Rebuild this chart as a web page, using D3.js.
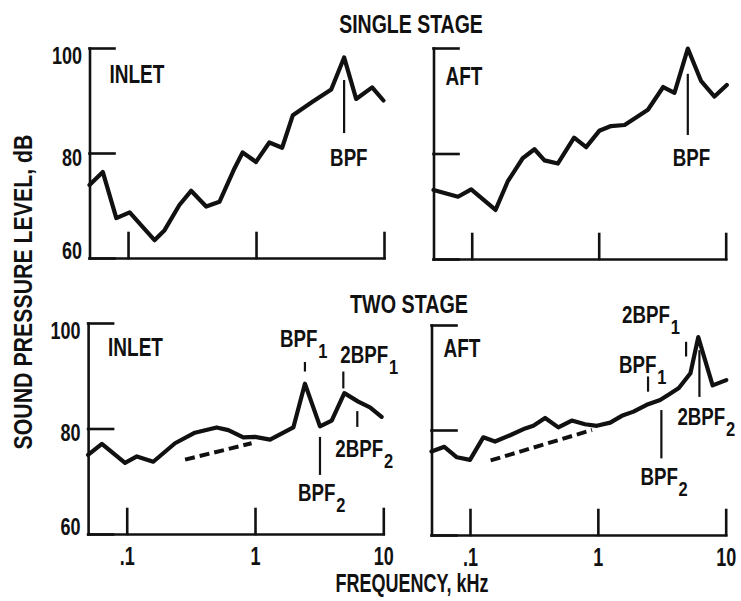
<!DOCTYPE html>
<html>
<head>
<meta charset="utf-8">
<script src="https://cdn.jsdelivr.net/npm/d3@7"></script>
<style>
  html, body { margin: 0; padding: 0; background: #fff; }
  svg { display: block; }
</style>
</head>
<body>
<svg id="chart" width="741" height="601"></svg>
<script>
// ---- Data: frequency (kHz) and sound pressure level (dB) along each spectrum ----
const singleInletFreq  = [0.05, 0.0635, 0.081, 0.103, 0.161, 0.193, 0.252, 0.311, 0.408, 0.518, 0.68, 0.786, 1.0, 1.27, 1.6, 1.94, 2.78, 3.87, 4.88, 6.06, 8.08, 9.9];
const singleInletLevel = [73.9, 76.4, 67.6, 68.7, 63.4, 65.3, 70.1, 72.8, 69.8, 70.7, 77.1, 80.1, 78.3, 82.0, 81.0, 87.2, 89.8, 92.1, 98.2, 90.3, 92.5, 90.0];

const singleAftFreq  = [0.05, 0.078, 0.099, 0.154, 0.192, 0.252, 0.312, 0.374, 0.476, 0.64, 0.796, 1.01, 1.25, 1.6, 2.44, 3.22, 3.95, 5.03, 6.41, 8.16, 10.2];
const singleAftLevel = [73.1, 71.8, 73.2, 69.3, 74.7, 79.1, 80.8, 78.7, 78.1, 83.0, 81.2, 84.3, 85.2, 85.4, 88.3, 92.6, 91.5, 99.9, 93.7, 90.8, 93.0];

const twoInletFreq  = [0.05, 0.064, 0.097, 0.12, 0.161, 0.238, 0.34, 0.502, 0.62, 0.81, 1.0, 1.31, 1.99, 2.45, 3.21, 3.96, 4.97, 6.38, 7.87, 9.7];
const twoInletLevel = [75.0, 77.1, 73.5, 74.7, 73.7, 77.2, 79.2, 80.2, 79.7, 78.3, 78.4, 77.9, 80.2, 88.5, 80.4, 81.5, 86.7, 85.1, 84.0, 82.2];

const twoAftFreq  = [0.05, 0.063, 0.079, 0.1, 0.127, 0.157, 0.206, 0.27, 0.313, 0.387, 0.491, 0.625, 0.794, 0.982, 1.25, 1.54, 1.9, 2.41, 3.07, 3.67, 4.3, 5.3, 6.1, 7.9, 10.1];
const twoAftLevel = [75.9, 76.8, 74.8, 74.3, 78.6, 77.8, 79.0, 80.3, 80.8, 82.3, 80.5, 81.8, 81.1, 80.8, 81.4, 82.7, 83.5, 84.8, 85.7, 86.9, 88.0, 90.8, 97.7, 88.5, 89.5];

// Broadband reference trends (dashed), two-stage only: [freq, level] end points
const twoInletTrend = [[0.285, 74.1], [0.94, 77.2]];
const twoAftTrend   = [[0.145, 74.2], [0.90, 80.0]];

// Blade-passing-frequency markers: label, subscript, frequency, level span of the tick
const singleInletMarkers = [{ name: "BPF", sub: "", f: 4.88, hi: 93.9, lo: 83.8 }];
const singleAftMarkers   = [{ name: "BPF", sub: "", f: 5.03, hi: 95.1, lo: 83.5 }];
const twoInletMarkers = [
  { name: "BPF",  sub: "1", f: 2.45, hi: 92.6, lo: 90.8 },
  { name: "2BPF", sub: "1", f: 4.88, hi: 90.8, lo: 87.6 },
  { name: "2BPF", sub: "2", f: 6.27, hi: 83.3, lo: 80.3 },
  { name: "BPF",  sub: "2", f: 3.21, hi: 78.4, lo: 71.2 }
];
const twoAftMarkers = [
  { name: "2BPF", sub: "1", f: 4.9,  hi: 96.8, lo: 94.0 },
  { name: "BPF",  sub: "1", f: 2.47, hi: 90.2, lo: 87.3 },
  { name: "BPF",  sub: "2", f: 3.14, hi: 83.8, lo: 74.6 },
  { name: "2BPF", sub: "2", f: 6.23, hi: 95.2, lo: 86.3 }
];

// Axis ticks
const freqDomain = [0.05, 10];
const levelDomain = [60, 100];
const freqTicks = [0.1, 1, 10];
const freqTickLabels = [".1", "1", "10"];
const levelTicks = [60, 80, 100];
const levelTickLabels = ["60", "80", "100"];

// Text
const stageTitles = ["SINGLE STAGE", "TWO STAGE"];
const positionNames = ["INLET", "AFT"];
const yTitle = "SOUND PRESSURE LEVEL, dB";
const xTitle = "FREQUENCY, kHz";

// ---- Drawing ----
const FONT = "'Liberation Sans', Arial, Helvetica, sans-serif";
const svg = d3.select("#chart");

// condensed lettering: regular face squeezed horizontally
function label(parent, str, x, y, o) {
  const t = parent.append("text")
    .attr("transform", `translate(${x},${y})${o.rotate ? ` rotate(${o.rotate})` : ""} scale(${o.sx},1)`)
    .attr("text-anchor", o.anchor || "start")
    .attr("font-family", FONT)
    .attr("font-weight", "bold")
    .attr("font-size", o.size)
    .attr("fill", "#111");
  t.append("tspan").text(str);
  if (o.sub) {
    t.append("tspan").attr("dy", 11).attr("dx", 1).attr("font-size", o.size * 0.88).text(o.sub);
  }
  return t;
}

// panel frames in pixels and where each marker label sits relative to its tick
const panels = [
  { freq: singleInletFreq, level: singleInletLevel, markers: singleInletMarkers, trend: null,
    x0: 89.5, x1: 384, yb: 258, yt: 48, name: positionNames[0], nameDx: 20, nameY: 83,
    showX: false, showY: true,
    place: [{ dx: -14, from: "lo", dy: 33 }] },
  { freq: singleAftFreq, level: singleAftLevel, markers: singleAftMarkers, trend: null,
    x0: 433.5, x1: 725.7, yb: 259, yt: 48, name: positionNames[1], nameDx: 12, nameY: 85,
    showX: false, showY: false,
    place: [{ dx: -15, from: "lo", dy: 31 }] },
  { freq: twoInletFreq, level: twoInletLevel, markers: twoInletMarkers, trend: twoInletTrend,
    x0: 88.1, x1: 383.3, yb: 534, yt: 323, name: positionNames[0], nameDx: 20, nameY: 356,
    showX: true, showY: true,
    place: [{ dx: -25, from: "hi", dy: -15 }, { dx: -3, from: "hi", dy: -8.5 },
            { dx: -22, from: "lo", dy: 30 }, { dx: -22, from: "lo", dy: 26.5 }] },
  { freq: twoAftFreq, level: twoAftLevel, markers: twoAftMarkers, trend: twoAftTrend,
    x0: 431.5, x1: 725.7, yb: 535, yt: 325, name: positionNames[1], nameDx: 12, nameY: 357,
    showX: true, showY: false,
    place: [{ dx: -64, from: "hi", dy: -18.5 }, { dx: -29, from: "hi", dy: -3.5 },
            { dx: -21, from: "lo", dy: 26.5 }, { dx: -22, from: "lo", dy: 28.5 }] }
];

const labelDy = { 100: 15, 80: 12, 60: 0 };

panels.forEach(p => {
  const x = d3.scaleLog().domain(freqDomain).range([p.x0, p.x1]);
  const y = d3.scaleLinear().domain(levelDomain).range([p.yb, p.yt]);
  const g = svg.append("g");

  // frequency axis, ticks pointing up into the plot
  const xa = g.append("g")
    .attr("transform", `translate(0,${p.yb})`)
    .call(d3.axisBottom(x).tickValues(freqTicks)
      .tickSizeInner(-25).tickSizeOuter(0).tickPadding(13)
      .tickFormat((d, i) => p.showX ? freqTickLabels[i] : ""));
  xa.attr("font-family", FONT).attr("font-size", 25).attr("font-weight", "bold");
  xa.selectAll("text").attr("transform", "scale(0.72,1)").attr("fill", "#111");

  // level axis, ticks pointing right
  const ya = g.append("g")
    .attr("transform", `translate(${p.x0},0)`)
    .call(d3.axisLeft(y).tickValues(levelTicks)
      .tickSizeInner(-25).tickSizeOuter(0).tickPadding(10)
      .tickFormat((d, i) => p.showY ? levelTickLabels[i] : ""));
  ya.attr("font-family", FONT).attr("font-size", 24).attr("font-weight", "bold");
  ya.selectAll("text").attr("transform", "scale(0.75,1)").attr("fill", "#111")
    .attr("dy", d => labelDy[d]);

  g.selectAll(".domain, .tick line")
    .attr("stroke", "#111").attr("stroke-width", 2.6).attr("stroke-linecap", "square");

  // dashed broadband trend
  if (p.trend) {
    g.append("path")
      .datum(p.trend)
      .attr("d", d3.line().x(d => x(d[0])).y(d => y(d[1])))
      .attr("fill", "none").attr("stroke", "#111")
      .attr("stroke-width", 4).attr("stroke-dasharray", "10,5");
  }

  // spectrum
  const pts = p.freq.map((f, i) => [f, p.level[i]]);
  g.append("path")
    .datum(pts)
    .attr("d", d3.line().x(d => x(d[0])).y(d => y(d[1])))
    .attr("fill", "none").attr("stroke", "#111")
    .attr("stroke-width", 4.2).attr("stroke-linejoin", "round").attr("stroke-linecap", "round");

  // tone markers and labels
  p.markers.forEach((m, i) => {
    const mx = x(m.f);
    g.append("line")
      .attr("x1", mx).attr("x2", mx)
      .attr("y1", y(m.hi)).attr("y2", y(m.lo))
      .attr("stroke", "#111").attr("stroke-width", 2.2);
    const pl = p.place[i];
    const by = (pl.from === "hi" ? y(m.hi) : y(m.lo)) + pl.dy;
    label(g, m.name, mx + pl.dx, by, { size: 24, sx: 0.78, sub: m.sub });
  });

  // panel name
  label(g, p.name, p.x0 + p.nameDx, p.nameY, { size: 25, sx: 0.76 });
});

// stage headings
label(svg, stageTitles[0], 411, 33, { size: 25, sx: 0.78, anchor: "middle" });
label(svg, stageTitles[1], 409, 313, { size: 25, sx: 0.79, anchor: "middle" });

// axis titles
label(svg, yTitle, 32, 292, { size: 26, sx: 0.82, anchor: "middle", rotate: -90 });
label(svg, xTitle, 412, 592, { size: 25, sx: 0.72, anchor: "middle" });
</script>
</body>
</html>
